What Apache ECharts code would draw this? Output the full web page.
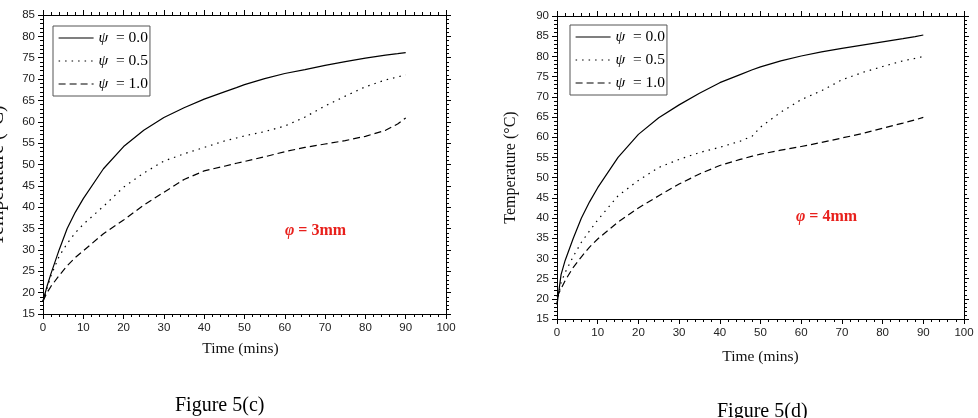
<!DOCTYPE html>
<html>
<head>
<meta charset="utf-8">
<script src="https://cdn.jsdelivr.net/npm/echarts@6/dist/echarts.min.js"></script>
<style>
html,body{margin:0;padding:0;background:#fff;}
#chart{width:978px;height:418px;}
</style>
</head>
<body>
<div id="chart"></div>
<script>
// Time (mins)
const time = [0,1,2,4,6,8,10,15,20,25,30,35,40,45,48,50,55,60,65,70,75,80,85,88,90];
const seriesNames = ['ψ = 0.0', 'ψ = 0.5', 'ψ = 1.0'];
// Figure 5(c), φ = 3mm
const c_psi00 = [18,21.5,24.5,30,35,38.8,42,49,54.2,58,61,63.3,65.3,67,68,68.7,70.1,71.3,72.2,73.2,74.1,74.9,75.6,75.95,76.2];
const c_psi05 = [18,21,24,28.5,31.5,34,36,40.2,44.7,48,50.8,52.5,54,55.5,56.2,56.7,57.7,59,61.1,63.7,66,68.2,69.8,70.5,71];
const c_psi10 = [18,20,21.5,24,26.3,28.2,29.8,33.8,37,40.5,43.5,46.5,48.5,49.6,50.3,50.7,51.8,53,54,54.8,55.6,56.6,58,59.5,60.9];
// Figure 5(d), φ = 4mm
const d_psi00 = [18.5,26,29.5,35,40,44,47.5,55,60.7,64.8,68,70.9,73.5,75.5,76.7,77.4,78.9,80.1,81.1,82,82.8,83.6,84.4,84.9,85.3];
const d_psi05 = [19,24,26.5,30.5,34,36.8,39.5,45.5,49.3,52.5,54.5,56.2,57.5,59,60.3,62.5,66.2,69.3,71.5,74.2,76,77.5,78.9,79.5,80];
const d_psi10 = [20.5,22.5,24.5,27.8,30.4,32.8,34.8,39,42.5,45.5,48.4,50.9,53,54.5,55.3,55.8,56.8,57.7,58.7,59.8,60.9,62.2,63.5,64.3,64.9];
const xTicks = {min:0, max:100, interval:10};
const yTicksC = {min:15, max:85, interval:5};
const yTicksD = {min:15, max:90, interval:5};
const annotC = ['φ', ' = 3mm'];
const annotD = ['φ', ' = 4mm'];
const captions = ['Figure 5(c)', 'Figure 5(d)'];

const pair = arr => time.map((t,i)=>[t, arr[i]]);
const lineTypes = ['solid', [1.5,5], [7,4]];
const SERIF = 'Liberation Serif, Times New Roman, serif';

const chart = echarts.init(document.getElementById('chart'));

function axisCommon(show){
  return {
    axisLine:{show:true, onZero:false, lineStyle:{color:'#000', width:1}},
    axisTick:{show:true, inside:false, length:5, lineStyle:{color:'#000', width:1}},
    minorTick:{show:true, splitNumber:5, length:3, lineStyle:{color:'#000', width:1}},
    splitLine:{show:false},
    axisLabel:{show:show, color:'#222', fontFamily:'Liberation Sans, Arial, sans-serif', fontSize:11.5, margin:8},
  };
}

function xAxes(grid){
  return [
    Object.assign({type:'value', gridIndex:grid, position:'bottom', min:xTicks.min, max:xTicks.max, interval:xTicks.interval,
      name:'Time (mins)', nameLocation:'middle', nameGap: grid===0 ? 27 : 30,
      nameTextStyle:{fontFamily:SERIF, fontSize:15.5, color:'#111', padding: grid===0 ? [0,8,0,0] : [0,0,0,0]}}, axisCommon(true)),
    Object.assign({type:'value', gridIndex:grid, position:'top', min:xTicks.min, max:xTicks.max, interval:xTicks.interval}, axisCommon(false))
  ];
}
function yAxes(grid, tk){
  return [
    Object.assign({type:'value', gridIndex:grid, position:'left', min:tk.min, max:tk.max, interval:tk.interval,
      name:'Temperature (°C)', nameLocation:'middle', nameGap: grid===0 ? 35 : 38,
      nameTextStyle: grid===0
        ? {fontFamily:SERIF, fontSize:20, color:'#111', padding:[0,22,0,0]}
        : {fontFamily:SERIF, fontSize:16, color:'#111'}}, axisCommon(true)),
    Object.assign({type:'value', gridIndex:grid, position:'right', min:tk.min, max:tk.max, interval:tk.interval}, axisCommon(false))
  ];
}

function mkSeries(name, data, idx, xi, yi){
  return {
    type:'line', name:name, data:pair(data), xAxisIndex:xi, yAxisIndex:yi,
    symbol:'none', smooth:false,
    lineStyle:{color:'#000', width:1.2, type:lineTypes[idx]},
    itemStyle:{color:'#000'}, z:3, animation:false
  };
}

const legendText = {
  fontFamily:SERIF, fontSize:15.5, color:'#000',
  rich:{
    i:{fontFamily:SERIF, fontStyle:'italic', fontSize:15.5, color:'#000'},
    t:{fontFamily:SERIF, fontSize:15.5, color:'#000'}
  }
};
const legendFmt = name => '{i|' + name.slice(0,1) + '}{t| ' + name.slice(1) + '}';

function legend(left, top){
  return {
    left:left, top:top, orient:'vertical', data:seriesNames,
    itemWidth:35, itemHeight:14, itemGap:7, padding:[4,2,4,5],
    borderColor:'#555', borderWidth:1, backgroundColor:'#fff',
    textStyle:legendText, formatter:legendFmt, selectedMode:false,
    itemStyle:{opacity:0},
    lineStyle:{width:1.2}
  };
}

function annot(parts, x, y){
  return {
    type:'text', left:x, top:y, z:10,
    style:{
      text:'{i|' + parts[0] + '}{b|' + parts[1] + '}',
      rich:{
        i:{fontFamily:SERIF, fontStyle:'italic', fontWeight:'bold', fontSize:16, fill:'#e8201c'},
        b:{fontFamily:SERIF, fontWeight:'bold', fontSize:16, fill:'#e8201c'}
      }
    }
  };
}

const option = {
  backgroundColor:'#fff',
  animation:false,
  grid:[
    {left:43, top:15, width:403, height:299, containLabel:false, outerBoundsMode:'none'},
    {left:557, top:16, width:407, height:303, containLabel:false, outerBoundsMode:'none'}
  ],
  xAxis:[...xAxes(0), ...xAxes(1)],
  yAxis:[...yAxes(0, yTicksC), ...yAxes(1, yTicksD)],
  legend:[legend(53, 26), legend(570, 25)],
  series:[
    mkSeries(seriesNames[0], c_psi00, 0, 0, 0),
    mkSeries(seriesNames[1], c_psi05, 1, 0, 0),
    mkSeries(seriesNames[2], c_psi10, 2, 0, 0),
    mkSeries(seriesNames[0], d_psi00, 0, 2, 2),
    mkSeries(seriesNames[1], d_psi05, 1, 2, 2),
    mkSeries(seriesNames[2], d_psi10, 2, 2, 2)
  ],
  graphic:[
    annot(annotC, 285, 223),
    annot(annotD, 796, 209),
    {type:'text', left:175, top:396, style:{text:captions[0], fontFamily:SERIF, fontSize:20, fill:'#000'}},
    {type:'text', left:717, top:402, style:{text:captions[1], fontFamily:SERIF, fontSize:20, fill:'#000'}}
  ]
};
chart.setOption(option);
</script>
</body>
</html>
